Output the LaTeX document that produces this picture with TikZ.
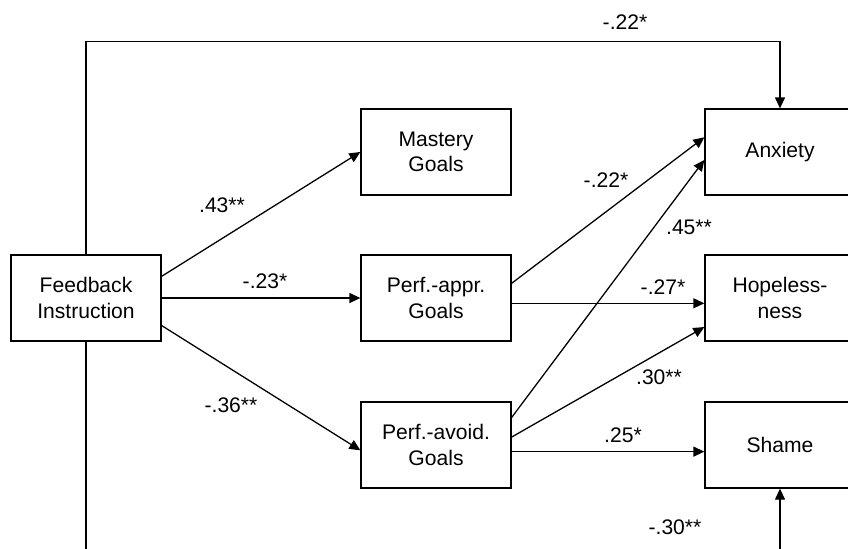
\documentclass[tikz,border=0pt]{standalone}
\usepackage{fontspec}
\setmainfont{Liberation Sans}
\usetikzlibrary{arrows.meta}
\begin{document}
\begin{tikzpicture}[x=0.03cm, y=-0.03cm,
    var/.style={shape=rectangle, draw=black, line width=1.1pt, minimum width=4.5cm, minimum height=2.58cm, align=center, font=\fontsize{18}{21.5}\selectfont},
    coef/.style={font=\fontsize{18}{21.5}\selectfont, inner sep=0pt},
    link/.style={-{Triangle[length=3.3mm,width=3mm]}, line width=1.1pt}]

            \useasboundingbox (0,0) rectangle (848,548);

            \node[var] (FB) at (86,298) {Feedback\\Instruction};
            \node[var] (MG) at (436,152) {Mastery\\Goals};
            \node[var] (PAP) at (436,298) {Perf.-appr.\\Goals};
            \node[var] (PAV) at (436,445) {Perf.-avoid.\\Goals};
            \node[var] (ANX) at (780,152) {Anxiety};
            \node[var] (HOP) at (780,298) {Hopeless-\\ness};
            \node[var] (SHA) at (780,445) {Shame};

            \path[link] (FB.16) edge (MG.west);
            \path[link] (FB.east) edge (PAP.west);
            \path[link] (FB.-20) edge (PAV.184);

            \path[link] (PAP.11) edge (ANX.169);
            \path[link] (PAV.20) edge (ANX.186);
            \path[link] (PAP.-4.6) edge (HOP.184.6);
            \path[link] (PAV.6) edge (HOP.201);
            \path[link] (PAV.-5.3) edge (SHA.185.3);

            % direct paths round the outside
            \draw[link] (FB.north) -- ++(0,-213) -| (ANX.north);
            \draw[link] (FB.south) -- ++(0,225) -| (SHA.south);

            \node[coef] (cTop) at (625,22) {-.22*};
            \node[coef] (cMG) at (222,205) {.43**};
            \node[coef] (cPAP) at (265,281) {-.23*};
            \node[coef] (cPAV) at (231,405) {-.36**};
            \node[coef] (cAPAX) at (606,180) {-.22*};
            \node[coef] (cAVAX) at (689,227) {.45**};
            \node[coef] (cAPHO) at (663,287) {-.27*};
            \node[coef] (cAVHO) at (659,377) {.30**};
            \node[coef] (cAVSH) at (623,435) {.25*};
            \node[coef] (cBot) at (675,527) {-.30**};
        \end{tikzpicture}
\end{document}
